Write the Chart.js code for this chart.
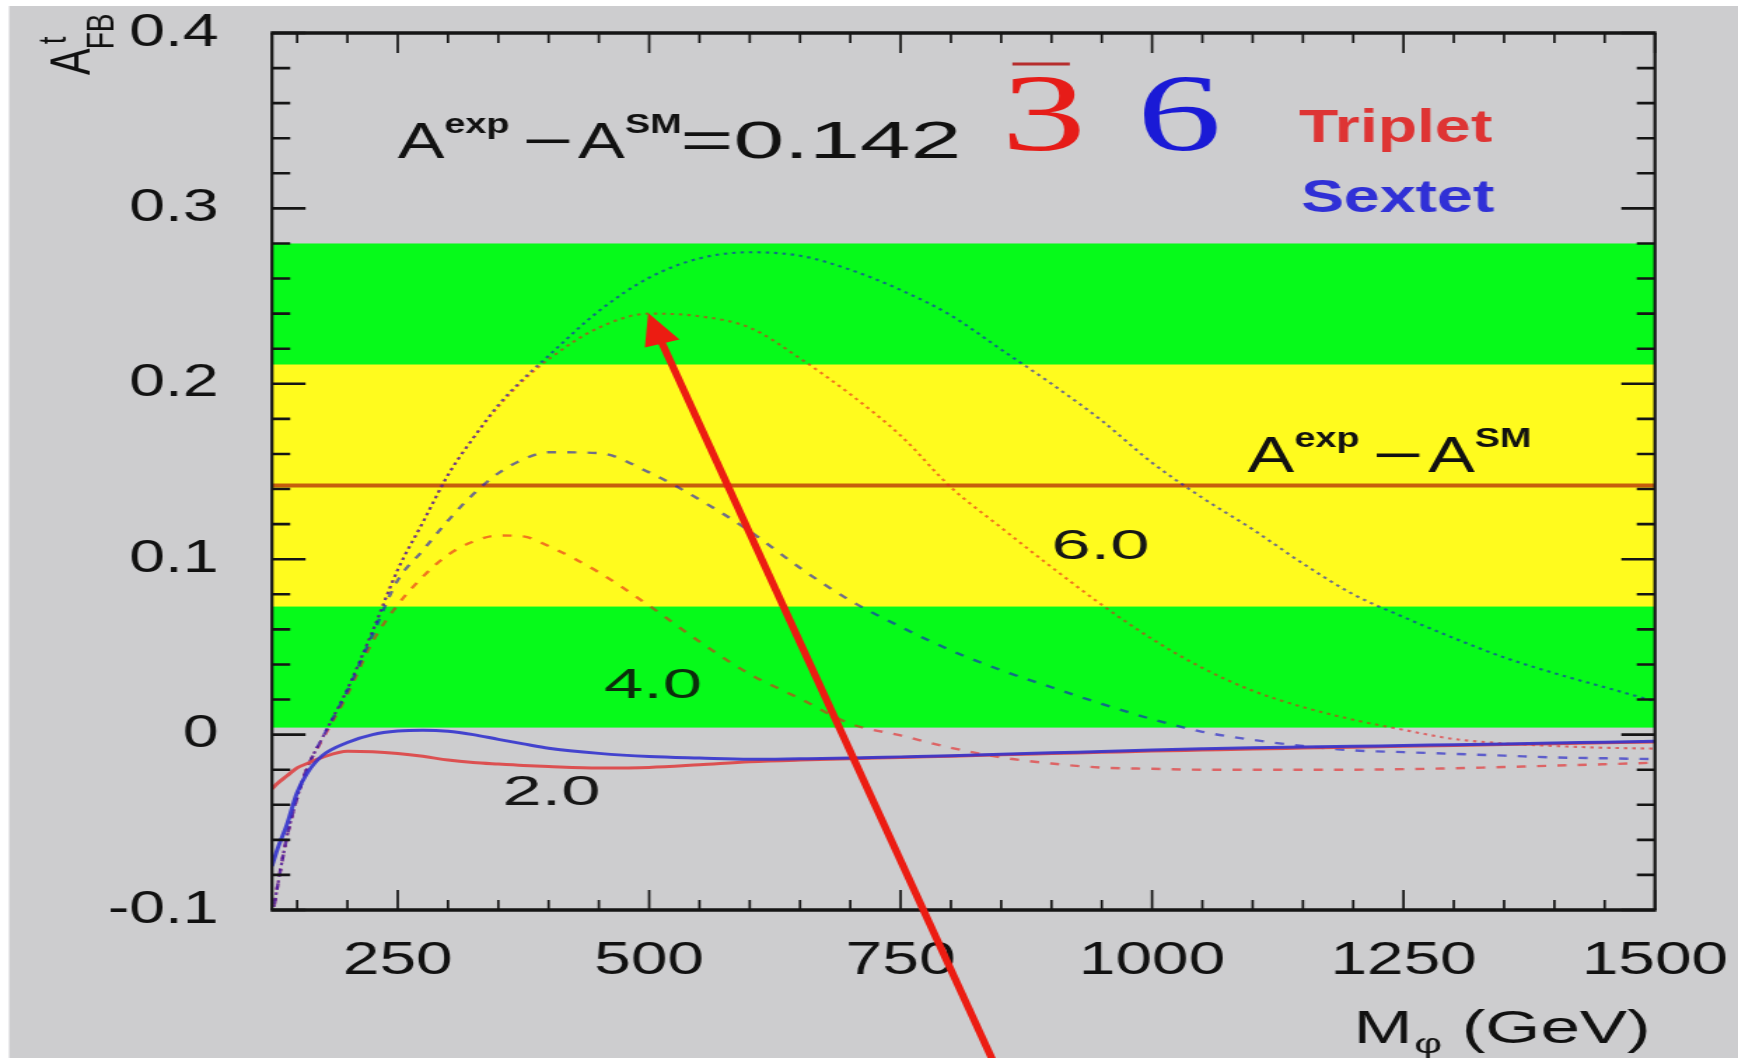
<!DOCTYPE html>
<html>
<head>
<meta charset="utf-8">
<title>Top forward-backward asymmetry versus scalar mass</title>
<script src="https://cdn.jsdelivr.net/npm/chart.js@4.4.1/dist/chart.umd.min.js"></script>
<style>
  html, body { margin: 0; padding: 0; background: #ffffff; overflow: hidden; }
  /* the figure is laid out 1241px wide and widened to 1738px */
  #frame { position: absolute; left: 0; top: 0; width: 1241px; height: 1058px;
           transform: scaleX(1.400484); transform-origin: 0 0; }
</style>
</head>
<body>
<div id="frame"><canvas id="chart"></canvas></div>
<script>
// ---- data -----------------------------------------------------------------
const massGeV = [125, 130, 140, 150, 160, 175, 200, 225, 250, 275, 300, 325, 350, 375, 400,
                 450, 500, 550, 600, 650, 700, 750, 800, 850, 900, 950, 1000, 1050, 1100,
                 1150, 1200, 1250, 1300, 1350, 1400, 1450, 1500];

// coupling 6.0 (dotted)
const sextet60 = [-0.105, -0.088, -0.058, -0.036, -0.019, -0.002, 0.026, 0.059, 0.094, 0.121, 0.148,
                  0.169, 0.188, 0.203, 0.216, 0.2415, 0.2605, 0.2715, 0.275, 0.273, 0.265, 0.2535,
                  0.239, 0.2195, 0.200, 0.179, 0.155, 0.135, 0.117, 0.0975, 0.080, 0.067, 0.055,
                  0.044, 0.035, 0.027, 0.019];
const triplet60 = [-0.105, -0.088, -0.058, -0.036, -0.019, -0.002, 0.026, 0.059, 0.094, 0.121, 0.148,
                   0.169, 0.187, 0.202, 0.214, 0.232, 0.240, 0.2385, 0.232, 0.2145, 0.194, 0.1705,
                   0.141, 0.118, 0.0955, 0.074, 0.0545, 0.038, 0.025, 0.0157, 0.0085, 0.0027,
                   -0.0025, -0.005, -0.0065, -0.0075, -0.008];
// coupling 4.0 (dashed)
const sextet40 = [-0.105, -0.088, -0.058, -0.036, -0.019, -0.002, 0.025, 0.057, 0.088, 0.105, 0.122,
                  0.137, 0.149, 0.157, 0.161, 0.1605, 0.1495, 0.134, 0.116, 0.095, 0.0764, 0.0615,
                  0.048, 0.0367, 0.027, 0.0175, 0.0088, 0.0016, -0.003, -0.0065, -0.009, -0.010,
                  -0.011, -0.012, -0.013, -0.0135, -0.014];
const triplet40 = [-0.105, -0.088, -0.058, -0.036, -0.019, -0.003, 0.023, 0.053, 0.074, 0.090, 0.1025,
                   0.110, 0.1135, 0.113, 0.1075, 0.0925, 0.0735, 0.053, 0.0345, 0.0205, 0.0062,
                   -0.0005, -0.0075, -0.013, -0.0165, -0.0188, -0.0195, -0.020, -0.020, -0.020,
                   -0.020, -0.0197, -0.0192, -0.0185, -0.0177, -0.0169, -0.016];
// coupling 2.0 (solid)
const sextet20 = [-0.075, -0.066, -0.051, -0.033, -0.022, -0.012, -0.0045, 0.0, 0.002, 0.0025, 0.0019,
                  0.0, -0.0027, -0.0053, -0.0078, -0.0107, -0.0125, -0.0134, -0.0141, -0.0138,
                  -0.0134, -0.0127, -0.012, -0.0112, -0.0104, -0.0096, -0.0088, -0.0081, -0.0075,
                  -0.0071, -0.0067, -0.0062, -0.0058, -0.0053, -0.0048, -0.0043, -0.0038];
const triplet20 = [-0.031, -0.028, -0.0235, -0.019, -0.0165, -0.013, -0.0095, -0.0098, -0.0108,
                   -0.0124, -0.0145, -0.0159, -0.0168, -0.0176, -0.0182, -0.019, -0.0187, -0.0172,
                   -0.0155, -0.0145, -0.0138, -0.013, -0.0123, -0.0115, -0.0108, -0.0101, -0.0094,
                   -0.0088, -0.0082, -0.0077, -0.0072, -0.0067, -0.0062, -0.0057, -0.0052,
                   -0.0047, -0.0042];

// measured excess and its 1 sigma / 2 sigma bands
const aExpMinusSM = 0.142;
const bandOneSigma = [0.073, 0.211];
const bandTwoSigma = [0.004, 0.280];

// axes
const xRange = [125, 1500];
const yRange = [-0.1, 0.4];
const xTickValues = [250, 500, 750, 1000, 1250, 1500];
const yTickValues = [-0.1, 0, 0.1, 0.2, 0.3, 0.4];

// pointer arrow (tail, head) in axis units
const arrowTail = [845, -0.19];
const arrowHead = [499, 0.2403];

// ---- styling helpers ---------------------------------------------------------
const SANS = '"Liberation Sans", Arial, Helvetica, sans-serif';
const SERIF = '"Liberation Serif", "Times New Roman", serif';
const RED = 'rgba(232, 30, 30, 0.6)';
const BLUE = 'rgba(24, 24, 200, 0.62)';

function series(values, color, width, dash) {
  return {
    data: massGeV.map((m, i) => ({ x: m, y: values[i] })),
    borderColor: color,
    borderWidth: width,
    borderDash: dash,
    pointRadius: 0,
    fill: false,
    cubicInterpolationMode: 'monotone'
  };
}

// draw a row of text runs (super/subscripts via dy), optionally widened by sx
function drawRuns(ctx, x, y, runs) {
  let cx = x;
  for (const r of runs) {
    cx += r.gap || 0;
    ctx.save();
    ctx.font = r.font;
    ctx.fillStyle = r.color || '#111';
    ctx.textAlign = 'left';
    ctx.textBaseline = 'alphabetic';
    const sx = r.sx || 1;
    ctx.translate(cx, y + (r.dy || 0));
    ctx.scale(sx, 1);
    ctx.fillText(r.t, 0, 0);
    const w = ctx.measureText(r.t).width * sx;
    ctx.restore();
    cx += w;
  }
  return cx - x;
}

function measureRuns(ctx, runs) {
  let w = 0;
  for (const r of runs) {
    ctx.save();
    ctx.font = r.font;
    w += (r.gap || 0) + ctx.measureText(r.t).width * (r.sx || 1);
    ctx.restore();
  }
  return w;
}

const asymRuns = (withValue) => {
  const runs = [
    { t: 'A', font: `50px ${SANS}` },
    { t: 'exp', font: `bold 27px ${SANS}`, dy: -25 },
    { t: '\u2212', font: `50px ${SANS}`, sx: 1.25, gap: 9 },
    { t: 'A', font: `50px ${SANS}`, gap: 3.5 },
    { t: 'SM', font: `bold 27px ${SANS}`, dy: -25 }
  ];
  if (withValue) runs.push({ t: '=0.142', font: `52px ${SANS}`, sx: 1.25, gap: -1 });
  return runs;
};

// keep the frame where the layout padding puts it (no extra label overhang room)
function noOverhang(s) {
  s.paddingTop = 0; s.paddingBottom = 0; s.paddingLeft = 0; s.paddingRight = 0;
}

// ---- plugin: background, bands, frame with ticks, labels, arrow ---------------
const figureDecor = {
  id: 'figureDecor',
  beforeDraw(chart) {
    const { ctx, width, height } = chart;
    ctx.save();
    ctx.fillStyle = '#ffffff';
    ctx.fillRect(0, 0, width, height);
    ctx.fillStyle = 'rgb(205, 205, 207)';
    ctx.fillRect(6.5, 6, width, height);
    ctx.restore();
  },
  beforeDatasetsDraw(chart) {
    const { ctx, chartArea: a, scales: { y } } = chart;
    ctx.save();
    const band = (lo, hi, color) => {
      const top = y.getPixelForValue(hi), bot = y.getPixelForValue(lo);
      ctx.fillStyle = color;
      ctx.fillRect(a.left, top, a.right - a.left, bot - top);
    };
    band(bandTwoSigma[0], bandTwoSigma[1], 'rgb(6, 250, 26)');
    band(bandOneSigma[0], bandOneSigma[1], 'rgb(255, 251, 30)');
    ctx.restore();
  },
  afterDatasetsDraw(chart) {
    const { ctx, chartArea: a, scales: { x, y } } = chart;
    ctx.save();
    ctx.strokeStyle = '#151515';
    ctx.lineCap = 'butt';

    // x tick marks, bottom and top
    ctx.lineWidth = 1.7;
    for (let v = 150; v <= xRange[1]; v += 50) {
      const len = xTickValues.includes(v) ? 20 : 10;
      const px = x.getPixelForValue(v);
      ctx.beginPath();
      ctx.moveTo(px, a.bottom); ctx.lineTo(px, a.bottom - len);
      ctx.moveTo(px, a.top); ctx.lineTo(px, a.top + len);
      ctx.stroke();
    }
    // y tick marks, left and right
    ctx.lineWidth = 2.6;
    for (let k = 0; k <= 25; k++) {
      const v = yRange[0] + k * 0.02;
      const len = k % 5 === 0 ? 24 : 13;
      const py = y.getPixelForValue(v);
      ctx.beginPath();
      ctx.moveTo(a.left, py); ctx.lineTo(a.left + len, py);
      ctx.moveTo(a.right, py); ctx.lineTo(a.right - len, py);
      ctx.stroke();
    }
    // frame
    ctx.lineWidth = 3.4;
    ctx.beginPath();
    ctx.moveTo(a.left - 1, a.top); ctx.lineTo(a.right + 1, a.top);
    ctx.moveTo(a.left - 1, a.bottom); ctx.lineTo(a.right + 1, a.bottom);
    ctx.stroke();
    ctx.lineWidth = 2.2;
    ctx.beginPath();
    ctx.moveTo(a.left, a.top); ctx.lineTo(a.left, a.bottom);
    ctx.moveTo(a.right, a.top); ctx.lineTo(a.right, a.bottom);
    ctx.stroke();
    ctx.restore();

    const at = (vx, vy) => [x.getPixelForValue(vx), y.getPixelForValue(vy)];

    // headline formula and representation symbols
    let p = at(250, 0.3288);
    drawRuns(ctx, p[0], p[1], asymRuns(true));

    p = at(850, 0.3333);
    drawRuns(ctx, p[0], p[1], [{ t: '3', font: `110px ${SERIF}`, color: 'rgb(230, 28, 24)', sx: 1.1 }]);
    ctx.save();
    ctx.strokeStyle = 'rgb(182, 45, 45)';
    ctx.lineWidth = 3;
    ctx.beginPath();
    ctx.moveTo(p[0] + 8, p[1] - 86); ctx.lineTo(p[0] + 49, p[1] - 86);
    ctx.stroke();
    ctx.restore();

    p = at(985, 0.3333);
    drawRuns(ctx, p[0], p[1], [{ t: '6', font: `110px ${SERIF}`, color: 'rgb(26, 26, 214)', sx: 1.1 }]);

    p = at(1146, 0.338);
    drawRuns(ctx, p[0], p[1], [{ t: 'Triplet', font: `bold 46px ${SANS}`, color: 'rgb(222, 52, 52)' }]);
    p = at(1148, 0.2982);
    drawRuns(ctx, p[0], p[1], [{ t: 'Sextet', font: `bold 46px ${SANS}`, color: 'rgb(48, 48, 214)' }]);

    // label of the measured line
    p = at(1095, 0.150);
    drawRuns(ctx, p[0], p[1], asymRuns(false));

    // coupling labels
    const coupling = (t, vx, vy, color) => {
      const q = at(vx, vy);
      drawRuns(ctx, q[0], q[1], [{ t, font: `42px ${SANS}`, sx: 1.2, color }]);
    };
    coupling('6.0', 900, 0.100, '#161616');
    coupling('4.0', 455, 0.021, 'rgb(12, 44, 12)');
    coupling('2.0', 354, -0.040, '#161616');
  },
  afterDraw(chart) {
    const { ctx, chartArea: a, scales: { x, y } } = chart;

    // x axis title: M_phi (GeV), right aligned to the frame
    const xt = [
      { t: 'M', font: `46px ${SANS}`, sx: 1.1 },
      { t: '\u03c6', font: `28px ${SANS}`, sx: 1.1, dy: 10, gap: 1 },
      { t: ' (GeV)', font: `46px ${SANS}`, sx: 1.1 }
    ];
    const w = measureRuns(ctx, xt);
    drawRuns(ctx, a.right - 3 - w, a.bottom + 133, xt);

    // y axis title: A_FB^t, rotated, at the top of the axis
    ctx.save();
    ctx.translate(a.left - 130, a.top + 42);
    ctx.rotate(-Math.PI / 2);
    ctx.fillStyle = '#111';
    ctx.textBaseline = 'alphabetic';
    ctx.font = `40px ${SANS}`;
    ctx.fillText('A', 0, 0);
    const aw = ctx.measureText('A').width;
    ctx.font = `28px ${SANS}`;
    ctx.fillText('FB', aw - 1, 17);
    ctx.fillText('t', aw + 4, -17);
    ctx.restore();

    // pointer arrow
    const tx = x.getPixelForValue(arrowTail[0]), ty = y.getPixelForValue(arrowTail[1]);
    const hx = x.getPixelForValue(arrowHead[0]), hy = y.getPixelForValue(arrowHead[1]);
    const ang = Math.atan2(hy - ty, hx - tx);
    const headLen = 32, headHalf = 13;
    const bx = hx - headLen * Math.cos(ang), by = hy - headLen * Math.sin(ang);
    ctx.save();
    ctx.strokeStyle = 'rgb(236, 28, 18)';
    ctx.fillStyle = 'rgb(236, 28, 18)';
    ctx.lineWidth = 5.5;
    ctx.beginPath();
    ctx.moveTo(tx, ty); ctx.lineTo(bx + 4 * Math.cos(ang), by + 4 * Math.sin(ang));
    ctx.stroke();
    ctx.beginPath();
    ctx.moveTo(hx, hy);
    ctx.lineTo(bx + headHalf * Math.sin(ang), by - headHalf * Math.cos(ang));
    ctx.lineTo(bx - headHalf * Math.sin(ang), by + headHalf * Math.cos(ang));
    ctx.closePath();
    ctx.fill();
    ctx.restore();
  }
};

// ---- chart -----------------------------------------------------------------
Chart.defaults.font.family = SANS;

new Chart(document.getElementById('chart'), {
  type: 'line',
  data: {
    datasets: [
      series(sextet20, 'rgba(52, 52, 205, 0.9)', 3, []),
      series(triplet20, 'rgba(222, 66, 66, 0.9)', 3, []),
      series(sextet40, BLUE, 2.4, [6.5, 8]),
      series(triplet40, RED, 2.4, [6.5, 8]),
      series(sextet60, BLUE, 2.1, [2.5, 3.5]),
      series(triplet60, RED, 2.1, [2.5, 3.5]),
      {
        data: [{ x: xRange[0], y: aExpMinusSM }, { x: xRange[1], y: aExpMinusSM }],
        borderColor: 'rgb(198, 94, 12)',
        borderWidth: 4,
        pointRadius: 0,
        fill: false
      }
    ]
  },
  options: {
    responsive: true,
    maintainAspectRatio: false,
    devicePixelRatio: 1,
    animation: false,
    events: [],
    layout: { padding: { left: 0, top: 33, right: 59.3, bottom: 0 } },
    plugins: { legend: { display: false }, tooltip: { enabled: false }, title: { display: false } },
    scales: {
      x: {
        type: 'linear',
        position: 'bottom',
        min: xRange[0],
        max: xRange[1],
        grid: { display: false, drawTicks: false },
        border: { display: false },
        ticks: {
          color: '#111', font: { size: 47 }, padding: 23, maxRotation: 0, autoSkip: false,
          callback: (v) => String(v)
        },
        afterBuildTicks: (s) => { s.ticks = xTickValues.map(v => ({ value: v })); },
        afterFit: (s) => { s.height = 148; noOverhang(s); }
      },
      y: {
        type: 'linear',
        position: 'left',
        min: yRange[0],
        max: yRange[1],
        grid: { display: false, drawTicks: false },
        border: { display: false },
        ticks: {
          color: '#111', font: { size: 46 }, padding: 38,
          callback: (v) => (Math.abs(v) < 1e-9 ? '0' : Number(v).toFixed(1))
        },
        afterBuildTicks: (s) => { s.ticks = yTickValues.map(v => ({ value: v })); },
        afterFit: (s) => { s.width = 194.2; noOverhang(s); }
      }
    }
  },
  plugins: [figureDecor]
});
</script>
</body>
</html>
